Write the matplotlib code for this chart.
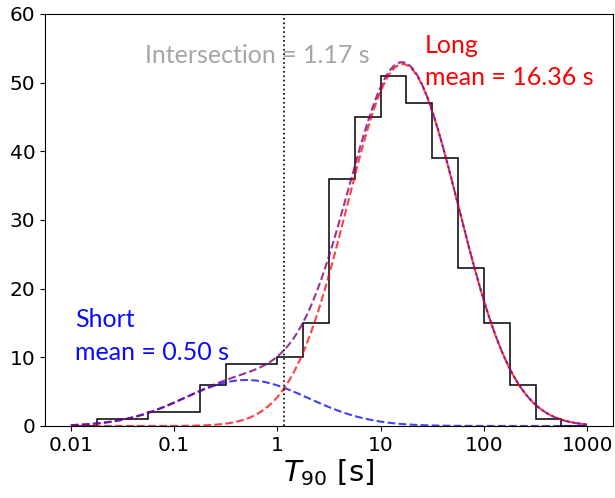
import matplotlib
matplotlib.use("Agg")
import matplotlib.pyplot as plt
import numpy as np

# histogram of T90, quarter-decade bins from 0.01 s to 1000 s
logEdges = [-2.0, -1.75, -1.5, -1.25, -1.0, -0.75, -0.5, -0.25, 0.0, 0.25,
            0.5, 0.75, 1.0, 1.25, 1.5, 1.75, 2.0, 2.25, 2.5, 2.75, 3.0]
counts = [0, 1, 1, 2, 2, 6, 9, 9, 10, 15,
          36, 45, 51, 47, 39, 23, 15, 6, 1, 0]

# two-gaussian fit in log10(T90)
shortMean, shortSigma, shortAmp = 0.50, 0.60, 6.7
longMean, longSigma, longAmp = 16.36, 0.54, 52.7
intersection = 1.17

xTicks = [0.01, 0.1, 1, 10, 100, 1000]
xTickLabels = ["0.01", "0.1", "1", "10", "100", "1000"]
yTicks = [0, 10, 20, 30, 40, 50, 60]

edges = 10 ** np.array(logEdges)

def gauss(logx, mean, sigma, amp):
    return amp * np.exp(-(logx - np.log10(mean)) ** 2 / (2 * sigma ** 2))

logGrid = np.linspace(logEdges[0], logEdges[-1], 600)
xGrid = 10 ** logGrid
shortCurve = gauss(logGrid, shortMean, shortSigma, shortAmp)
longCurve = gauss(logGrid, longMean, longSigma, longAmp)

fig = plt.figure(figsize=(6.15, 4.98), dpi=100)
ax = fig.add_axes([0.0732, 0.1446, 0.9235, 0.8273])

ax.stairs(counts, edges, color="black", linewidth=1.1)
ax.plot(xGrid, shortCurve, "--", color="blue", alpha=0.75, linewidth=1.5)
ax.plot(xGrid, longCurve, "--", color="red", alpha=0.75, linewidth=1.5)
ax.plot(xGrid, shortCurve + longCurve, "--", color="purple", alpha=0.8, linewidth=1.5)
ax.axvline(intersection, color="black", linestyle=":", linewidth=1.2)

ax.set_xscale("log")
ax.set_xlim(10 ** -2.25, 10 ** 3.25)
ax.set_ylim(0, 60)
ax.set_xticks(xTicks)
ax.set_xticklabels(xTickLabels)
ax.xaxis.set_minor_locator(matplotlib.ticker.NullLocator())
ax.set_yticks(yTicks)
ax.tick_params(labelsize=14.5)
ax.set_xlabel(r"$T_{90}$ [s]", fontsize=21, labelpad=2)

# annotations (positions in axes fraction, baseline aligned)
annot = dict(family="Lato", fontsize=18, transform=ax.transAxes,
             va="baseline", ha="left")
ax.text(0.176, 0.880, "Intersection = %.2f s" % intersection,
        color="#a6a6a6", **annot)
ax.text(0.669, 0.905, "Long", color="red", **annot)
ax.text(0.669, 0.828, "mean = %.2f s" % longMean, color="red", **annot)
ax.text(0.053, 0.241, "Short", color="#0a0aff", **annot)
ax.text(0.053, 0.160, "mean = %.2f s" % shortMean, color="#0a0aff", **annot)

fig.savefig("out.png", dpi=100)
